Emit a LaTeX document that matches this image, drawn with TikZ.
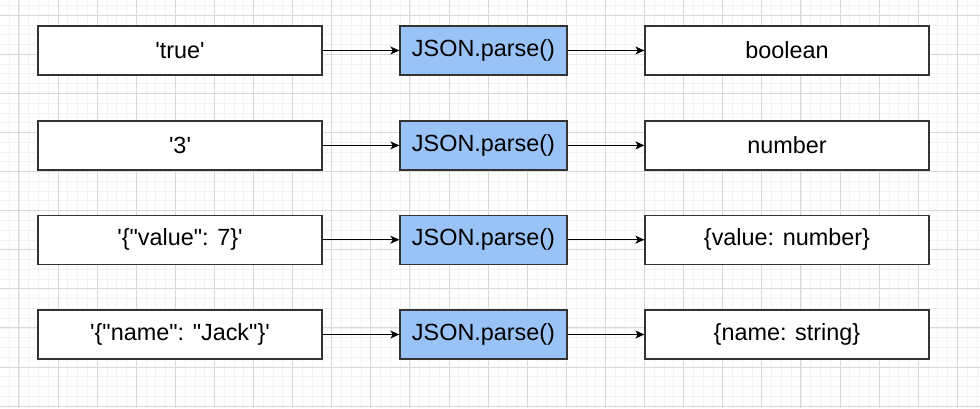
\documentclass[tikz,border=0pt]{standalone}
\usepackage{fontspec}
\setmainfont{Liberation Sans}
\usetikzlibrary{arrows.meta}
\definecolor{gridminor}{HTML}{F2F2F2}
\definecolor{gridmajor}{HTML}{D8D8D8}
\definecolor{boxline}{HTML}{333333}
\definecolor{parsefill}{HTML}{99C2F6}
\newcommand{\sq}{\textquotesingle}
\newcommand{\dq}{\textquotedbl}
\tikzset{
  x=1pt, y=-1pt,
  box/.style={draw=boxline, line width=1.3pt, fill=white, rectangle,
    minimum width=284pt, minimum height=49pt, inner sep=0pt,
    font=\fontsize{23.4}{28}\selectfont},
  parsebox/.style={box, fill=parsefill, minimum width=167pt},
  conn/.style={draw=black, line width=1.1pt, -{Stealth[length=9pt,width=8pt,inset=2.5pt]}}
}
\begin{document}
\begin{tikzpicture}
\useasboundingbox (0,0) rectangle (980,408);
\fill[white] (0,0) rectangle (980,408);
% minor grid
\foreach \i in {0,...,101} {
  \draw[gridminor, line width=0.5pt] ({-0.75+\i*9.775},0) -- ({-0.75+\i*9.775},408);
}
\foreach \i in {0,...,42} {
  \draw[gridminor, line width=0.5pt] (0,{5.225+\i*9.775-9.775}) -- (980,{5.225+\i*9.775-9.775});
}
% major grid
\foreach \i in {0,...,25} {
  \draw[gridmajor, line width=0.8pt] ({18.8+\i*39.1},0) -- ({18.8+\i*39.1},408);
}
\foreach \i in {0,...,10} {
  \draw[gridmajor, line width=0.8pt] (0,{15+\i*39.1}) -- (980,{15+\i*39.1});
}
% row 1
\node[box] (in1) at (180,50.5) {\sq true\sq};
\node[parsebox] (p1) at (483.5,50.5) {JSON.parse()};
\node[box] (out1) at (787,50.5) {boolean};
% row 2
\node[box] (in2) at (180,145.4) {\sq 3\sq};
\node[parsebox] (p2) at (483.5,145.4) {JSON.parse()};
\node[box] (out2) at (787,145.4) {number};
% row 3
\node[box] (in3) at (180,239.7) {\sq\{\dq value\dq: 7\}\sq};
\node[parsebox] (p3) at (483.5,239.7) {JSON.parse()};
\node[box] (out3) at (787,239.7) {\{value: number\}};
% row 4
\node[box] (in4) at (180,334.5) {\sq\{\dq name\dq: \dq Jack\dq\}\sq};
\node[parsebox] (p4) at (483.5,334.5) {JSON.parse()};
\node[box] (out4) at (787,334.5) {\{name: string\}};
% connectors
\foreach \r in {1,2,3,4} {
  \draw[conn] (in\r.east) -- (p\r.west);
  \draw[conn] (p\r.east) -- (out\r.west);
}
\end{tikzpicture}
\end{document}
